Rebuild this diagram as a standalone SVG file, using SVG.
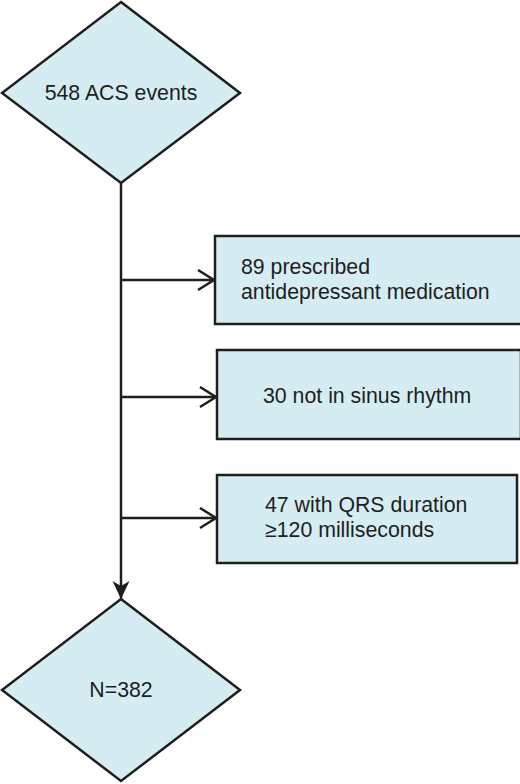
<svg xmlns="http://www.w3.org/2000/svg" width="520" height="784" viewBox="0 0 520 784">
<style>
.node{fill:#d5edf2;stroke:#1e1e1e;stroke-width:2.5}
.t{font-family:"Liberation Sans",Arial,sans-serif;font-size:21.3px;fill:#1e1e1e}
.c{text-anchor:middle}
.ln{stroke:#1e1e1e;stroke-width:2.5;fill:none}
</style>
<defs>
<marker id="open" markerWidth="20" markerHeight="24" refX="17" refY="11" orient="auto" markerUnits="userSpaceOnUse">
<path d="M1,1 L17,11 L1,21" fill="none" stroke="#1e1e1e" stroke-width="2.5"/>
</marker>
<marker id="fill" markerWidth="18" markerHeight="20" refX="9" refY="18" orient="0" markerUnits="userSpaceOnUse">
<path d="M0.5,0 L9,18 L17.5,0 L9,5 Z" fill="#1e1e1e"/>
</marker>
</defs>
<g id="connectors">
<line class="ln" x1="121" y1="183" x2="121" y2="599" marker-end="url(#fill)"/>
<line class="ln" x1="121" y1="280" x2="214" y2="280" marker-end="url(#open)"/>
<line class="ln" x1="121" y1="397" x2="216" y2="397" marker-end="url(#open)"/>
<line class="ln" x1="121" y1="518" x2="216" y2="518" marker-end="url(#open)"/>
</g>
<g id="start">
<polygon class="node" points="121,2 240,93 121,183 2,93"/>
<text class="t c" x="121" y="100">548 ACS events</text>
</g>
<g id="excl1">
<rect class="node" x="215" y="236" width="308" height="88"/>
<text class="t" x="241" y="274">89 prescribed</text>
<text class="t" x="241" y="299">antidepressant medication</text>
</g>
<g id="excl2">
<rect class="node" x="217" y="350" width="304" height="89"/>
<text class="t" x="263" y="403">30 not in sinus rhythm</text>
</g>
<g id="excl3">
<rect class="node" x="217" y="475" width="300" height="88"/>
<text class="t" x="265" y="512">47 with QRS duration</text>
<text class="t" x="265" y="537">≥120 milliseconds</text>
</g>
<g id="final">
<polygon class="node" points="121,599 240,690 121,781 2,690"/>
<text class="t c" x="121" y="697">N=382</text>
</g>
</svg>
